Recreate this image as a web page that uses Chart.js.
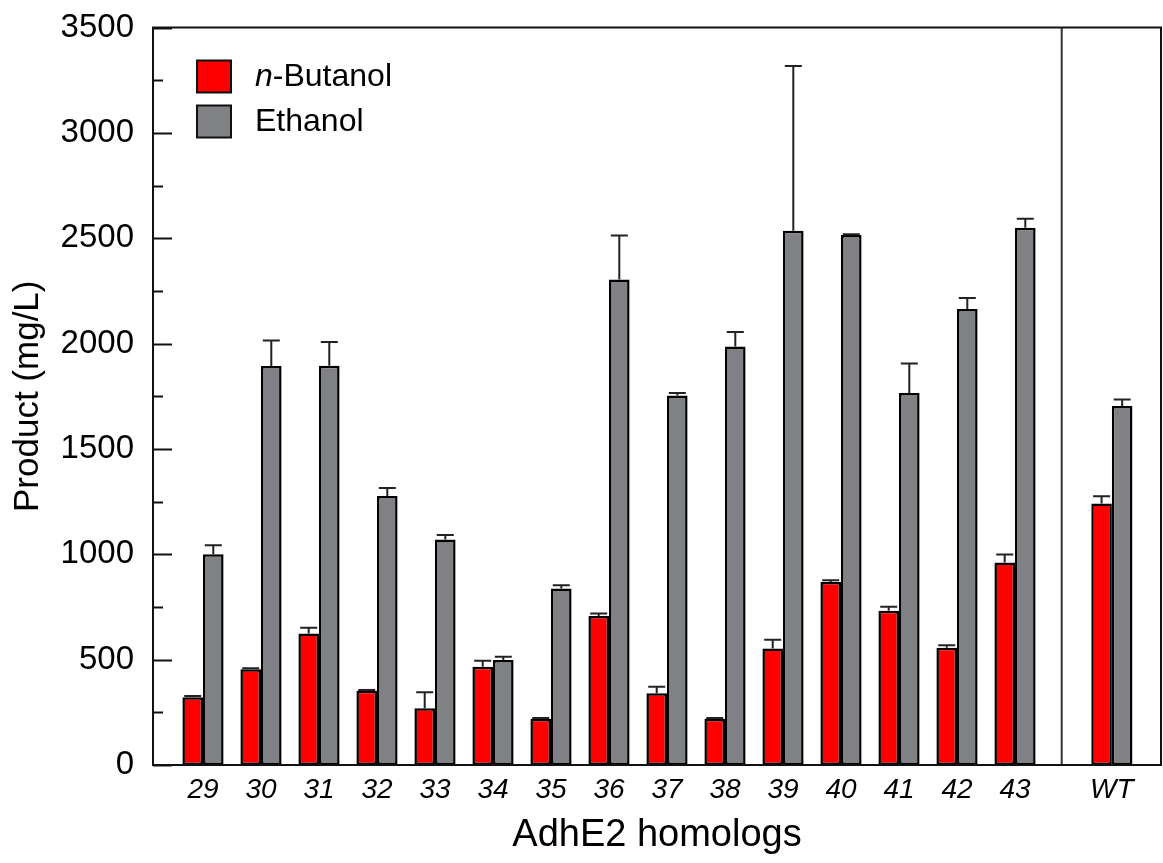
<!DOCTYPE html>
<html>
<head>
<meta charset="utf-8">
<script src="https://cdn.jsdelivr.net/npm/chart.js@4"></script>
<style>
  body { margin: 0; background: #fff; }
  #wrap { width: 1163px; height: 863px; }
</style>
</head>
<body>
<div id="wrap"><canvas id="productChart"></canvas></div>
<script>
/* ===== AdhE2 homologs: n-butanol / ethanol product ===== */

const categories = ['29', '30', '31', '32', '33', '34', '35', '36', '37', '38', '39', '40', '41', '42', '43', 'WT'];

const butanol    = [322, 455, 624, 352, 269, 466, 218, 707, 341, 218, 553, 868, 732, 556, 961, 1241];
const butanolErr = [6, 4, 27, 4, 76, 29, 5, 12, 30, 5, 41, 9, 19, 12, 38, 35];

const ethanol    = [1000, 1893, 1895, 1277, 1070, 498, 838, 2304, 1753, 1986, 2535, 2515, 1766, 2164, 2550, 1704];
const ethanolErr = [43, 122, 112, 38, 21, 16, 15, 209, 12, 69, 782, 4, 139, 52, 42, 30];

const yTicks = [0, 500, 1000, 1500, 2000, 2500, 3000, 3500];

// homologs sit one unit apart, WT is pushed out past a divider
const WT_GAP = 1.67;
const xPos = categories.map((c, i) => i < categories.length - 1 ? i : i - 1 + WT_GAP);
const dividerAt = (xPos[xPos.length - 2] + xPos[xPos.length - 1]) / 2 - 0.03;

const FONT = '"Liberation Sans", Arial, Helvetica, sans-serif';

const extras = {
  id: 'extras',
  afterDatasetsDraw(chart) {
    const { ctx, chartArea: a, scales: { x, y } } = chart;
    ctx.save();

    // upper error bars
    ctx.strokeStyle = '#222';
    ctx.lineWidth = 2;
    [butanolErr, ethanolErr].forEach((errs, di) => {
      const vals = chart.data.datasets[di].data;
      chart.getDatasetMeta(di).data.forEach((bar, i) => {
        const top = y.getPixelForValue(vals[i].y);
        const end = y.getPixelForValue(vals[i].y + errs[i]);
        ctx.beginPath();
        ctx.moveTo(bar.x, top);
        ctx.lineTo(bar.x, end);
        ctx.moveTo(bar.x - 8.5, end);
        ctx.lineTo(bar.x + 8.5, end);
        ctx.stroke();
      });
    });

    // inward ticks on the left axis
    ctx.strokeStyle = '#111';
    ctx.lineWidth = 2;
    for (let v = 0; v <= 3500; v += 250) {
      const py = Math.round(y.getPixelForValue(v)) + 0.5;
      const len = v % 500 === 0 ? 19 : 10;
      ctx.beginPath();
      ctx.moveTo(a.left, py);
      ctx.lineTo(a.left + len, py);
      ctx.stroke();
    }

    // divider before WT
    const dx = x.getPixelForValue(dividerAt);
    ctx.strokeStyle = '#333';
    ctx.beginPath();
    ctx.moveTo(dx, a.top);
    ctx.lineTo(dx, a.bottom);
    ctx.stroke();

    // frame
    ctx.strokeStyle = '#111';
    ctx.strokeRect(a.left, a.top, a.right - a.left, a.bottom - a.top);

    // legend
    const names = chart.data.datasets.map(d => d.label);
    const fills = chart.data.datasets.map(d => d.backgroundColor);
    ctx.textBaseline = 'middle';
    names.forEach((name, i) => {
      const bx = a.left + 44, by = a.top + 33 + i * 45;
      ctx.fillStyle = fills[i];
      ctx.fillRect(bx, by, 34, 32);
      ctx.lineWidth = 2;
      ctx.strokeStyle = '#111';
      ctx.strokeRect(bx, by, 34, 32);
      ctx.fillStyle = '#000';
      let tx = bx + 58;
      if (name.startsWith('n-')) {
        ctx.font = 'italic 32px ' + FONT;
        ctx.fillText('n', tx, by + 17);
        tx += ctx.measureText('n').width;
        name = name.slice(1);
      }
      ctx.font = '32px ' + FONT;
      ctx.fillText(name, tx, by + 17);
    });

    ctx.restore();
  }
};

const ctx = document.getElementById('productChart').getContext('2d');
new Chart(ctx, {
  type: 'bar',
  data: {
    datasets: [
      {
        label: 'n-Butanol',
        data: butanol.map((v, i) => ({ x: xPos[i], y: v })),
        backgroundColor: '#ff0000',
        borderColor: '#000',
        borderWidth: 2.5,
        borderSkipped: false
      },
      {
        label: 'Ethanol',
        data: ethanol.map((v, i) => ({ x: xPos[i], y: v })),
        backgroundColor: '#808184',
        borderColor: '#000',
        borderWidth: 2.5,
        borderSkipped: false
      }
    ]
  },
  options: {
    responsive: true,
    maintainAspectRatio: false,
    animation: false,
    categoryPercentage: 0.71,
    barPercentage: 1.0,
    layout: { padding: { top: 27, right: 2, left: 0, bottom: 0 } },
    plugins: {
      legend: { display: false },
      tooltip: { enabled: false }
    },
    scales: {
      x: {
        type: 'linear',
        offset: false,
        min: -0.862,
        max: 16.517,
        grid: { display: false, offset: false },
        border: { display: false },
        afterBuildTicks: s => { s.ticks = xPos.map(v => ({ value: v })); },
        afterFit: s => { s.height = 98; },
        ticks: {
          autoSkip: false,
          maxRotation: 0,
          padding: 0,
          color: '#000',
          font: { family: FONT, size: 28, style: 'italic' },
          callback: (v, i) => categories[i]
        },
        title: {
          display: true,
          text: 'AdhE2 homologs',
          color: '#000',
          font: { family: FONT, size: 38 },
          padding: { top: 0, bottom: 5 }
        }
      },
      y: {
        min: 0,
        max: 3500,
        grid: { display: false },
        border: { display: false },
        afterBuildTicks: s => { s.ticks = yTicks.map(v => ({ value: v })); },
        afterFit: s => { s.width = 153; },
        ticks: {
          padding: 11,
          color: '#000',
          font: { family: FONT, size: 33, lineHeight: 1 },
          callback: v => String(v)
        },
        title: {
          display: true,
          text: 'Product (mg/L)',
          color: '#000',
          font: { family: FONT, size: 35 },
          padding: { top: 7, bottom: 0 }
        }
      }
    }
  },
  plugins: [extras]
});
</script>
</body>
</html>
